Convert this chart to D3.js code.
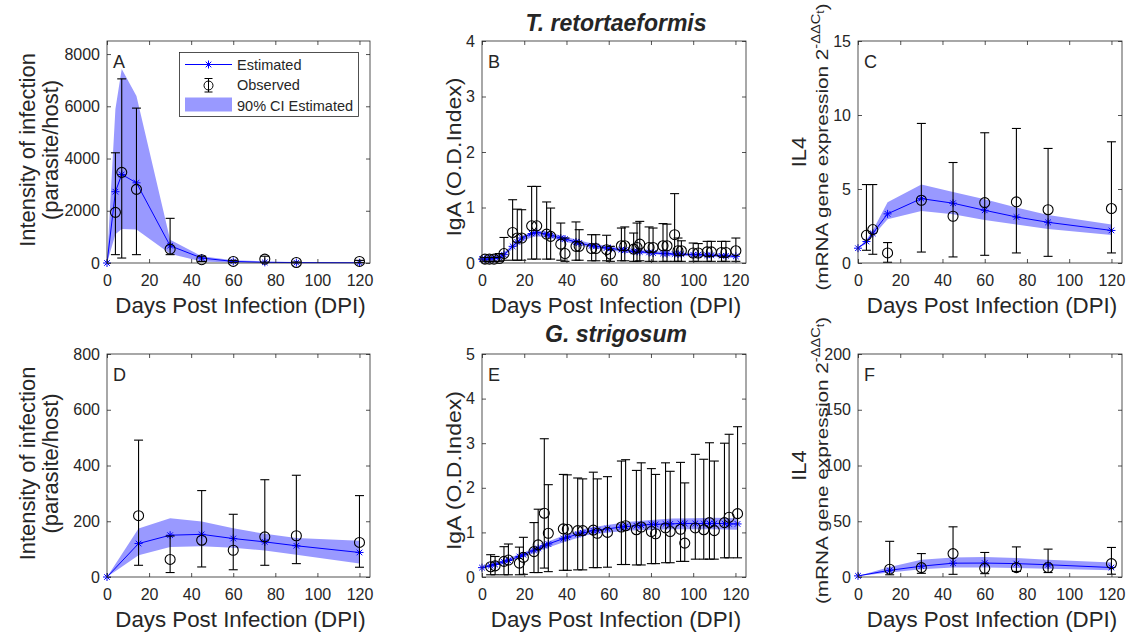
<!DOCTYPE html>
<html>
<head>
<meta charset="utf-8">
<script src="https://cdn.jsdelivr.net/npm/d3@7"></script>
<style>
body { margin: 0; background: #fff; }
svg text { font-family: "Liberation Sans", Arial, sans-serif; fill: #262626; }
</style>
</head>
<body>
<script>
// ---- T. retortaeformis : intensity (A)
var aDays = [0, 4, 7, 14, 30, 45, 60, 75, 90, 120];
var aEst = [0, 2730, 3390, 3070, 660, 190, 60, 25, 15, 10];
var aCiLo = [0, 1100, 1300, 1280, 350, 60, 15, 5, 2, 1];
var aCiHi = [0, 5900, 7430, 6390, 890, 260, 110, 60, 40, 30];
var aObsDays = [4, 7, 14, 30, 45, 60, 75, 90, 120];
var aObs = [1940, 3470, 2820, 530, 127, 60, 150, 20, 60];
var aObsLo = [320, 190, 320, 320, 60, 20, 30, 5, 20];
var aObsHi = [4220, 7050, 5930, 1710, 260, 100, 260, 40, 100];

// ---- T. retortaeformis : IgA (B)
var bObsDays = [1.4, 3.5, 5.7, 8.2, 10.4, 14.5, 16.7, 18.8, 23.5, 25.9, 30.6, 32.5, 37.3, 39.3, 44.5, 46, 51.9, 53.9, 59, 60.8,
                66, 67.6, 71.8, 73.4, 74.7, 79.1, 81, 85.7, 87.6, 91.2, 92.8, 94.4, 100, 102.4, 106.6, 108.6, 113.4, 115.5, 120.2];
var bObs = [0.07, 0.07, 0.07, 0.08, 0.17, 0.55, 0.45, 0.45, 0.67, 0.67, 0.52, 0.48, 0.34, 0.17, 0.3, 0.3, 0.26, 0.26, 0.24, 0.16,
            0.31, 0.31, 0.25, 0.28, 0.34, 0.28, 0.28, 0.31, 0.31, 0.51, 0.22, 0.22, 0.18, 0.18, 0.2, 0.2, 0.19, 0.19, 0.22];
var bObsLo = [0.03, 0.03, 0.03, 0.03, 0.05, 0.05, 0.05, 0.05, 0.07, 0.07, 0.07, 0.07, 0.05, 0.03, 0.05, 0.05, 0.04, 0.04, 0.04, 0.03,
              0.04, 0.04, 0.03, 0.03, 0.04, 0.03, 0.03, 0.03, 0.03, 0.03, 0.03, 0.03, 0.03, 0.03, 0.03, 0.03, 0.03, 0.03, 0.03];
var bObsHi = [0.1, 0.1, 0.1, 0.17, 0.46, 1.14, 0.97, 0.96, 1.38, 1.38, 1.1, 0.99, 0.72, 0.45, 0.74, 0.6, 0.51, 0.51, 0.5, 0.3,
              0.63, 0.65, 0.54, 0.72, 0.75, 0.65, 0.63, 0.71, 0.7, 1.25, 0.45, 0.4, 0.36, 0.35, 0.39, 0.39, 0.39, 0.39, 0.45];
var bEstDays = [0, 1.4, 3.5, 5.7, 8.2, 10.4, 14.5, 16.7, 18.8, 23.5, 25.9, 30.6, 32.5, 37.3, 39.3, 44.5, 46, 51.9, 53.9, 59, 60.8,
                66, 67.6, 71.8, 73.4, 74.7, 79.1, 81, 85.7, 87.6, 91.2, 92.8, 94.4, 100, 102.4, 106.6, 108.6, 113.4, 115.5, 120.2];
var bEst = [0.07, 0.07, 0.07, 0.08, 0.1, 0.15, 0.3, 0.38, 0.45, 0.53, 0.55, 0.52, 0.5, 0.45, 0.43, 0.38, 0.36, 0.31, 0.3, 0.27, 0.26,
            0.24, 0.23, 0.21, 0.21, 0.2, 0.19, 0.18, 0.17, 0.17, 0.16, 0.16, 0.16, 0.15, 0.15, 0.14, 0.14, 0.13, 0.13, 0.12];
var bCiDays = [0, 5, 10, 15, 20, 25, 30, 35, 40, 45, 50, 60, 70, 80, 90, 100, 110, 120.2];
var bCiLo = [0.05, 0.06, 0.11, 0.27, 0.41, 0.48, 0.47, 0.43, 0.38, 0.33, 0.29, 0.23, 0.18, 0.16, 0.13, 0.12, 0.11, 0.09];
var bCiHi = [0.09, 0.1, 0.17, 0.36, 0.5, 0.58, 0.57, 0.52, 0.47, 0.42, 0.37, 0.3, 0.25, 0.22, 0.19, 0.18, 0.17, 0.15];

// ---- T. retortaeformis : IL4 (C)
var cDays = [0, 4, 7, 14, 30, 45, 60, 75, 90, 120];
var cEst = [1.0, 1.45, 2.0, 3.32, 4.35, 4.04, 3.56, 3.11, 2.75, 2.2];
var cCiLo = [1.0, 1.3, 1.8, 2.95, 3.52, 3.3, 2.9, 2.6, 2.3, 1.9];
var cCiHi = [1.0, 1.6, 2.2, 4.1, 5.3, 4.8, 4.3, 3.75, 3.25, 2.6];
var cObsDays = [4, 7, 14, 30, 45, 60, 75, 90, 120];
var cObs = [1.87, 2.26, 0.68, 4.24, 3.16, 4.08, 4.13, 3.6, 3.68];
var cObsLo = [0.86, 0.59, 0.05, 0.74, 0.41, 0.52, 0.68, 0.45, 0.68];
var cObsHi = [5.3, 5.3, 1.38, 9.43, 6.79, 8.8, 9.09, 7.74, 8.19];

// ---- G. strigosum : intensity (D)
var dDays = [0, 15, 30, 45, 60, 75, 90, 120];
var dEst = [0, 120, 150, 153, 138, 126, 112, 88];
var dCiLo = [0, 78, 108, 110, 105, 95, 80, 48];
var dCiHi = [0, 174, 211, 199, 175, 155, 140, 130];
var dObsDays = [15, 30, 45, 60, 75, 90, 120];
var dObs = [220, 63, 132, 96, 144, 148, 124];
var dObsLo = [42, 16, 36, 26, 42, 48, 35];
var dObsHi = [491, 147, 310, 225, 349, 365, 292];

// ---- G. strigosum : IgA (E)
var eObsDays = [4.1, 6.2, 10.4, 12.5, 17.7, 19.6, 24.6, 26.6, 29.5, 31.4, 38.5, 40.4, 45.3, 47.7, 52.7, 54.6, 59.4,
                66, 68, 73.1, 75.4, 80.2, 82.2, 86.9, 89.1, 94, 96, 101, 105, 107.7, 110, 114.8, 117, 121];
var eObs = [0.23, 0.25, 0.35, 0.38, 0.31, 0.44, 0.57, 0.72, 1.43, 0.98, 1.08, 1.07, 1.04, 1.04, 1.05, 0.98, 1.0,
            1.12, 1.15, 1.06, 1.12, 1.02, 0.97, 1.1, 1.02, 1.07, 0.76, 1.1, 1.06, 1.22, 1.04, 1.22, 1.34, 1.42];
var eObsLo = [0.05, 0.05, 0.05, 0.05, 0.05, 0.06, 0.1, 0.1, 0.2, 0.12, 0.15, 0.15, 0.16, 0.16, 0.21, 0.21, 0.22,
              0.28, 0.28, 0.27, 0.27, 0.3, 0.3, 0.32, 0.32, 0.35, 0.35, 0.4, 0.4, 0.4, 0.4, 0.43, 0.43, 0.43];
var eObsHi = [0.5, 0.46, 0.68, 0.74, 0.67, 0.89, 1.22, 1.52, 3.1, 2.07, 2.3, 2.29, 2.22, 2.2, 2.35, 2.2, 2.25,
              2.6, 2.63, 2.39, 2.56, 2.43, 2.3, 2.56, 2.37, 2.57, 2.11, 2.75, 2.64, 3.01, 2.6, 3.0, 3.2, 3.37];
var eEstDays = [0, 4.1, 6.2, 10.4, 12.5, 17.7, 19.6, 24.6, 26.6, 29.5, 31.4, 38.5, 40.4, 45.3, 47.7, 52.7, 54.6, 59.4,
                66, 68, 73.1, 75.4, 80.2, 82.2, 86.9, 89.1, 94, 96, 101, 105, 107.7, 110, 114.8, 117, 121];
var eEst = [0.21, 0.25, 0.28, 0.34, 0.37, 0.46, 0.5, 0.6, 0.64, 0.7, 0.74, 0.86, 0.89, 0.96, 0.99, 1.04, 1.05, 1.08,
            1.12, 1.13, 1.15, 1.16, 1.18, 1.18, 1.19, 1.19, 1.2, 1.2, 1.2, 1.2, 1.2, 1.2, 1.2, 1.19, 1.19];
var eCiDays = [0, 10, 20, 30, 40, 50, 60, 70, 80, 90, 100, 110, 121];
var eCiLo = [0.18, 0.3, 0.45, 0.64, 0.8, 0.94, 1.0, 1.04, 1.06, 1.07, 1.07, 1.07, 1.06];
var eCiHi = [0.24, 0.38, 0.55, 0.77, 0.96, 1.1, 1.17, 1.24, 1.28, 1.31, 1.32, 1.33, 1.32];

// ---- G. strigosum : IL4 (F)
var fDays = [0, 15, 30, 45, 60, 75, 90, 120];
var fEst = [1, 6, 9.7, 12.4, 12.5, 12, 11, 8.5];
var fCiLo = [1, 4, 7, 8.5, 8.5, 8, 7.5, 6];
var fCiHi = [1, 9, 15.4, 17.5, 18, 17, 15.5, 13];
var fObsDays = [15, 30, 45, 60, 75, 90, 120];
var fObs = [7, 8.4, 21, 7.8, 8.4, 8.5, 12];
var fObsLo = [2, 3.3, 2.4, 3, 5, 4, 2.5];
var fObsHi = [32, 21, 45, 22, 27, 25, 26.5];

var xTicks = [0, 20, 40, 60, 80, 100, 120];
var titles = ["T. retortaeformis", "G. strigosum"];
var xLabel = "Days Post Infection (DPI)";

var BAND = "rgb(153,153,255)", BLUE = "#0000ff", AXIS = "#262626";
var starPath = "M-4,0H4M0,-4V4M-2.8,-2.8L2.8,2.8M-2.8,2.8L2.8,-2.8";
var fmt = d3.format("d");

var svg = d3.select("body").append("svg")
    .attr("width", 1136)
    .attr("height", 632);

var cols = [[107, 370], [482, 746], [858, 1122]];
var rows = [[41, 263], [354, 577]];

var panels = [
  {letter: "A", col: 0, row: 0, yMax: 8500, yTicks: [0, 2000, 4000, 6000, 8000], ylab: "int",
   estDays: aDays, est: aEst, ciDays: aDays, ciLo: aCiLo, ciHi: aCiHi,
   obsDays: aObsDays, obs: aObs, obsLo: aObsLo, obsHi: aObsHi},
  {letter: "B", col: 1, row: 0, yMax: 4, yTicks: [0, 1, 2, 3, 4], ylab: "iga",
   estDays: bEstDays, est: bEst, ciDays: bCiDays, ciLo: bCiLo, ciHi: bCiHi,
   obsDays: bObsDays, obs: bObs, obsLo: bObsLo, obsHi: bObsHi},
  {letter: "C", col: 2, row: 0, yMax: 15, yTicks: [0, 5, 10, 15], ylab: "il4",
   estDays: cDays, est: cEst, ciDays: cDays, ciLo: cCiLo, ciHi: cCiHi,
   obsDays: cObsDays, obs: cObs, obsLo: cObsLo, obsHi: cObsHi},
  {letter: "D", col: 0, row: 1, yMax: 800, yTicks: [0, 200, 400, 600, 800], ylab: "int",
   estDays: dDays, est: dEst, ciDays: dDays, ciLo: dCiLo, ciHi: dCiHi,
   obsDays: dObsDays, obs: dObs, obsLo: dObsLo, obsHi: dObsHi},
  {letter: "E", col: 1, row: 1, yMax: 5, yTicks: [0, 1, 2, 3, 4, 5], ylab: "iga",
   estDays: eEstDays, est: eEst, ciDays: eCiDays, ciLo: eCiLo, ciHi: eCiHi,
   obsDays: eObsDays, obs: eObs, obsLo: eObsLo, obsHi: eObsHi},
  {letter: "F", col: 2, row: 1, yMax: 200, yTicks: [0, 50, 100, 150, 200], ylab: "il4",
   estDays: fDays, est: fEst, ciDays: fDays, ciLo: fCiLo, ciHi: fCiHi,
   obsDays: fObsDays, obs: fObs, obsLo: fObsLo, obsHi: fObsHi}
];

panels.forEach(drawPanel);

function drawPanel(p) {
  var left = cols[p.col][0], right = cols[p.col][1],
      top = rows[p.row][0], bottom = rows[p.row][1];

  var x = d3.scaleLinear().domain([0, 125]).range([left, right]);
  var y = d3.scaleLinear().domain([0, p.yMax]).range([bottom, top]);

  var g = svg.append("g");

  // 90% CI band
  var area = d3.area()
      .x(function(d) { return x(d[0]); })
      .y0(function(d) { return y(d[1]); })
      .y1(function(d) { return y(d[2]); });
  g.append("path")
      .datum(d3.zip(p.ciDays, p.ciLo, p.ciHi))
      .attr("d", area)
      .attr("fill", BAND);

  // estimated line + star markers
  var est = d3.zip(p.estDays, p.est);
  g.append("path")
      .datum(est)
      .attr("d", d3.line().x(function(d) { return x(d[0]); }).y(function(d) { return y(d[1]); }))
      .attr("fill", "none")
      .attr("stroke", BLUE)
      .attr("stroke-width", 1);
  g.selectAll(".star")
      .data(est)
      .enter().append("path")
      .attr("class", "star")
      .attr("transform", function(d) { return "translate(" + x(d[0]) + "," + y(d[1]) + ")"; })
      .attr("d", starPath)
      .attr("stroke", BLUE)
      .attr("stroke-width", 1)
      .attr("fill", "none");

  // observed with error bars
  var obs = d3.zip(p.obsDays, p.obs, p.obsLo, p.obsHi);
  var cap = 4.5;
  var eb = g.selectAll(".obs")
      .data(obs)
      .enter().append("g")
      .attr("class", "obs")
      .attr("stroke", "#000")
      .attr("stroke-width", 1.1)
      .attr("fill", "none");
  eb.append("line")
      .attr("x1", function(d) { return x(d[0]); })
      .attr("x2", function(d) { return x(d[0]); })
      .attr("y1", function(d) { return y(d[2]); })
      .attr("y2", function(d) { return y(d[3]); });
  eb.append("line")
      .attr("x1", function(d) { return x(d[0]) - cap; })
      .attr("x2", function(d) { return x(d[0]) + cap; })
      .attr("y1", function(d) { return y(d[3]); })
      .attr("y2", function(d) { return y(d[3]); });
  eb.append("line")
      .attr("x1", function(d) { return x(d[0]) - cap; })
      .attr("x2", function(d) { return x(d[0]) + cap; })
      .attr("y1", function(d) { return y(d[2]); })
      .attr("y2", function(d) { return y(d[2]); });
  eb.append("circle")
      .attr("cx", function(d) { return x(d[0]); })
      .attr("cy", function(d) { return y(d[1]); })
      .attr("r", 5);

  // axes (ticks inside, mirrored on top/right)
  var ax = svg.append("g").attr("class", "axes");
  ax.append("g")
      .attr("transform", "translate(0," + bottom + ")")
      .call(d3.axisBottom(x).tickValues(xTicks).tickFormat(fmt).tickSize(-4).tickSizeOuter(0).tickPadding(12));
  ax.append("g")
      .attr("transform", "translate(0," + top + ")")
      .call(d3.axisTop(x).tickValues(xTicks).tickSize(-4).tickSizeOuter(0).tickFormat(""));
  ax.append("g")
      .attr("transform", "translate(" + left + ",0)")
      .call(d3.axisLeft(y).tickValues(p.yTicks).tickFormat(fmt).tickSize(-4).tickSizeOuter(0).tickPadding(7));
  ax.append("g")
      .attr("transform", "translate(" + right + ",0)")
      .call(d3.axisRight(y).tickValues(p.yTicks).tickSize(-4).tickSizeOuter(0).tickFormat(""));
  ax.selectAll("path, line").attr("stroke", AXIS).attr("stroke-width", 0.8);
  ax.selectAll("text").attr("font-size", 16).attr("fill", AXIS)
      .style("font-family", "'Liberation Sans', Arial, sans-serif");
  ax.selectAll(".domain").remove();
  ax.append("rect")
      .attr("x", left).attr("y", top)
      .attr("width", right - left).attr("height", bottom - top)
      .attr("fill", "none").attr("stroke", AXIS).attr("stroke-width", 0.8);

  // panel letter
  svg.append("text")
      .attr("x", left + 6).attr("y", top + 27)
      .attr("font-size", 18)
      .text(p.letter);

  // x label
  svg.append("text")
      .attr("x", (left + right) / 2 + 2).attr("y", bottom + 50)
      .attr("text-anchor", "middle")
      .attr("font-size", 22.3)
      .text(xLabel);

  // y label
  var cy = (top + bottom) / 2;
  if (p.ylab === "int") {
    yText(left - 72, cy - 2, 21.5, 1.02, "Intensity of infection");
    yText(left - 49, cy - 2, 21.5, 1.02, "(parasite/host)");
  } else if (p.ylab === "iga") {
    yText(left - 21, cy + 5, 21, 1.1, "IgA (O.D.Index)");
  } else {
    yText(left - 52, cy, 21, 1.05, "IL4");
    var t = svg.append("text")
        .attr("transform", "translate(" + (left - 30) + "," + (cy - 5) + ") rotate(-90) scale(1.22,1)")
        .attr("text-anchor", "middle")
        .attr("font-size", 17);
    t.append("tspan").text("(mRNA gene expression 2");
    t.append("tspan").attr("dy", -8).attr("font-size", 12).text("-\u0394\u0394C");
    t.append("tspan").attr("dy", 4).attr("font-size", 10).text("t");
    t.append("tspan").attr("dy", 4).text(")");
  }
}

function yText(bx, cy, size, stretch, str) {
  svg.append("text")
      .attr("transform", "translate(" + bx + "," + cy + ") rotate(-90) scale(" + stretch + ",1)")
      .attr("text-anchor", "middle")
      .attr("font-size", size)
      .text(str);
}

// titles
svg.append("text")
    .attr("x", 616).attr("y", 31)
    .attr("text-anchor", "middle")
    .attr("font-size", 23).attr("font-weight", "bold").attr("font-style", "italic")
    .attr("fill", "#000")
    .text(titles[0]);
svg.append("text")
    .attr("x", 616).attr("y", 342)
    .attr("text-anchor", "middle")
    .attr("font-size", 23).attr("font-weight", "bold").attr("font-style", "italic")
    .attr("fill", "#000")
    .text(titles[1]);

// legend in panel A
var lg = svg.append("g");
lg.append("rect")
    .attr("x", 179.5).attr("y", 52.5).attr("width", 179).attr("height", 64)
    .attr("fill", "#fff").attr("stroke", AXIS).attr("stroke-width", 0.8);
lg.append("line").attr("x1", 185).attr("x2", 232).attr("y1", 64.5).attr("y2", 64.5)
    .attr("stroke", BLUE).attr("stroke-width", 1);
lg.append("path").attr("transform", "translate(208.5,64.5)").attr("d", starPath)
    .attr("stroke", BLUE).attr("fill", "none");
lg.append("line").attr("x1", 208.5).attr("x2", 208.5).attr("y1", 78.5).attr("y2", 92).attr("stroke", "#000");
lg.append("line").attr("x1", 204.5).attr("x2", 212.5).attr("y1", 78.5).attr("y2", 78.5).attr("stroke", "#000");
lg.append("line").attr("x1", 204.5).attr("x2", 212.5).attr("y1", 92).attr("y2", 92).attr("stroke", "#000");
lg.append("circle").attr("cx", 208.5).attr("cy", 85.5).attr("r", 4.5).attr("fill", "none").attr("stroke", "#000");
lg.append("rect").attr("x", 185).attr("y", 97.5).attr("width", 47).attr("height", 14).attr("fill", BAND);
var legTexts = ["Estimated", "Observed", "90% CI Estimated"];
lg.selectAll(".lt").data(legTexts).enter().append("text")
    .attr("x", 237)
    .attr("y", function(d, i) { return 70 + i * 20.3; })
    .attr("font-size", 14.5)
    .attr("fill", "#000")
    .text(function(d) { return d; });
</script>
</body>
</html>
